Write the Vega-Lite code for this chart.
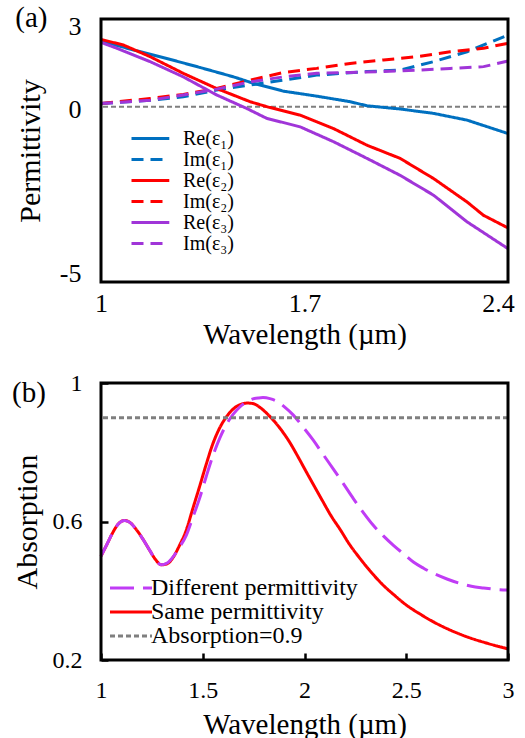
{
  "$schema": "https://vega.github.io/schema/vega-lite/v6.json",
  "background": "white",
  "padding": {"left": 12, "top": 4, "right": 5, "bottom": 5},
  "spacing": 22,
  "resolve": {
    "scale": {"color": "independent", "strokeDash": "independent", "strokeWidth": "independent", "x": "independent", "y": "independent"},
    "legend": {"color": "independent", "strokeDash": "independent", "strokeWidth": "independent"}
  },
  "config": {
    "font": "Liberation Serif",
    "view": {"stroke": null},
    "axis": {"grid": false, "domain": false, "labelFont": "Liberation Serif", "titleFont": "Liberation Serif", "titleFontWeight": "normal", "labelColor": "black", "titleColor": "black", "tickColor": "#000000", "labelOverlap": false},
    "title": {"font": "Liberation Serif", "fontWeight": "normal", "fontSize": 29, "anchor": "start", "frame": "bounds", "baseline": "alphabetic", "color": "black"},
    "legend": {"labelFont": "Liberation Serif", "labelColor": "black"}
  },
  "vconcat": [
    {
      "width": 407,
      "height": 263,
      "title": {"text": "(a)", "offset": -20},
      "layer": [
        {
          "data": {"values": [{"level": 0}]},
          "mark": {"type": "rule", "color": "#7f7f7f", "strokeWidth": 2, "strokeDash": [5, 3]},
          "encoding": {"y": {"field": "level", "type": "quantitative"}}
        },
        {
          "data": {"values": [
            {"s": "Re(ε₁)", "x": 1.0, "v": 2.25},
            {"s": "Re(ε₁)", "x": 1.111, "v": 1.94},
            {"s": "Re(ε₁)", "x": 1.226, "v": 1.65},
            {"s": "Re(ε₁)", "x": 1.341, "v": 1.34},
            {"s": "Re(ε₁)", "x": 1.456, "v": 1.02},
            {"s": "Re(ε₁)", "x": 1.524, "v": 0.8},
            {"s": "Re(ε₁)", "x": 1.628, "v": 0.53},
            {"s": "Re(ε₁)", "x": 1.742, "v": 0.36},
            {"s": "Re(ε₁)", "x": 1.857, "v": 0.17},
            {"s": "Re(ε₁)", "x": 1.915, "v": 0.03},
            {"s": "Re(ε₁)", "x": 2.029, "v": -0.08},
            {"s": "Re(ε₁)", "x": 2.144, "v": -0.23},
            {"s": "Re(ε₁)", "x": 2.259, "v": -0.46},
            {"s": "Re(ε₁)", "x": 2.4, "v": -0.92},
            {"s": "Im(ε₁)", "x": 1.0, "v": 0.11},
            {"s": "Im(ε₁)", "x": 1.169, "v": 0.22},
            {"s": "Im(ε₁)", "x": 1.283, "v": 0.34},
            {"s": "Im(ε₁)", "x": 1.398, "v": 0.57},
            {"s": "Im(ε₁)", "x": 1.513, "v": 0.74},
            {"s": "Im(ε₁)", "x": 1.628, "v": 0.91},
            {"s": "Im(ε₁)", "x": 1.742, "v": 1.08},
            {"s": "Im(ε₁)", "x": 1.915, "v": 1.2},
            {"s": "Im(ε₁)", "x": 2.029, "v": 1.25},
            {"s": "Im(ε₁)", "x": 2.144, "v": 1.54},
            {"s": "Im(ε₁)", "x": 2.259, "v": 1.88},
            {"s": "Im(ε₁)", "x": 2.4, "v": 2.45},
            {"s": "Re(ε₂)", "x": 1.0, "v": 2.3},
            {"s": "Re(ε₂)", "x": 1.077, "v": 2.11},
            {"s": "Re(ε₂)", "x": 1.169, "v": 1.71},
            {"s": "Re(ε₂)", "x": 1.283, "v": 1.14},
            {"s": "Re(ε₂)", "x": 1.398, "v": 0.62},
            {"s": "Re(ε₂)", "x": 1.513, "v": 0.17},
            {"s": "Re(ε₂)", "x": 1.57, "v": 0.0},
            {"s": "Re(ε₂)", "x": 1.685, "v": -0.29},
            {"s": "Re(ε₂)", "x": 1.8, "v": -0.75},
            {"s": "Re(ε₂)", "x": 1.915, "v": -1.32},
            {"s": "Re(ε₂)", "x": 2.029, "v": -1.77},
            {"s": "Re(ε₂)", "x": 2.144, "v": -2.46},
            {"s": "Re(ε₂)", "x": 2.259, "v": -3.26},
            {"s": "Re(ε₂)", "x": 2.316, "v": -3.72},
            {"s": "Re(ε₂)", "x": 2.4, "v": -4.15},
            {"s": "Im(ε₂)", "x": 1.0, "v": 0.11},
            {"s": "Im(ε₂)", "x": 1.169, "v": 0.28},
            {"s": "Im(ε₂)", "x": 1.283, "v": 0.42},
            {"s": "Im(ε₂)", "x": 1.398, "v": 0.62},
            {"s": "Im(ε₂)", "x": 1.513, "v": 0.91},
            {"s": "Im(ε₂)", "x": 1.628, "v": 1.17},
            {"s": "Im(ε₂)", "x": 1.742, "v": 1.31},
            {"s": "Im(ε₂)", "x": 1.857, "v": 1.48},
            {"s": "Im(ε₂)", "x": 1.972, "v": 1.6},
            {"s": "Im(ε₂)", "x": 2.087, "v": 1.71},
            {"s": "Im(ε₂)", "x": 2.201, "v": 1.88},
            {"s": "Im(ε₂)", "x": 2.316, "v": 2.0},
            {"s": "Im(ε₂)", "x": 2.4, "v": 2.17},
            {"s": "Re(ε₃)", "x": 1.0, "v": 2.2},
            {"s": "Re(ε₃)", "x": 1.054, "v": 2.0},
            {"s": "Re(ε₃)", "x": 1.169, "v": 1.54},
            {"s": "Re(ε₃)", "x": 1.283, "v": 1.02},
            {"s": "Re(ε₃)", "x": 1.398, "v": 0.4},
            {"s": "Re(ε₃)", "x": 1.501, "v": -0.06},
            {"s": "Re(ε₃)", "x": 1.57, "v": -0.4},
            {"s": "Re(ε₃)", "x": 1.685, "v": -0.69},
            {"s": "Re(ε₃)", "x": 1.8, "v": -1.2},
            {"s": "Re(ε₃)", "x": 1.915, "v": -1.77},
            {"s": "Re(ε₃)", "x": 2.029, "v": -2.35},
            {"s": "Re(ε₃)", "x": 2.144, "v": -3.03},
            {"s": "Re(ε₃)", "x": 2.259, "v": -3.94},
            {"s": "Re(ε₃)", "x": 2.4, "v": -4.86},
            {"s": "Im(ε₃)", "x": 1.0, "v": 0.11},
            {"s": "Im(ε₃)", "x": 1.169, "v": 0.22},
            {"s": "Im(ε₃)", "x": 1.283, "v": 0.4},
            {"s": "Im(ε₃)", "x": 1.398, "v": 0.6},
            {"s": "Im(ε₃)", "x": 1.513, "v": 0.85},
            {"s": "Im(ε₃)", "x": 1.628, "v": 1.02},
            {"s": "Im(ε₃)", "x": 1.742, "v": 1.14},
            {"s": "Im(ε₃)", "x": 1.857, "v": 1.17},
            {"s": "Im(ε₃)", "x": 1.972, "v": 1.2},
            {"s": "Im(ε₃)", "x": 2.087, "v": 1.25},
            {"s": "Im(ε₃)", "x": 2.201, "v": 1.31},
            {"s": "Im(ε₃)", "x": 2.316, "v": 1.37},
            {"s": "Im(ε₃)", "x": 2.4, "v": 1.56}
          ]},
          "mark": {"type": "line", "strokeWidth": 3},
          "encoding": {
            "x": {"field": "x", "type": "quantitative", "scale": {"domain": [1, 2.4], "nice": false, "zero": false},
              "axis": {"values": [1, 1.7, 2.4], "format": "~g", "labelFontSize": 26, "labelPadding": 8, "ticks": false, "labelFlush": false,
                "labelOffset": {"condition": {"test": "datum.value == 2.4", "value": -10}, "value": 0},
                "title": "Wavelength (µm)", "titleFontSize": 29, "titlePadding": 4}},
            "y": {"field": "v", "type": "quantitative", "scale": {"domain": [-6, 3], "nice": false, "zero": false},
              "axis": {"values": [3, 0, -6], "labelExpr": "datum.value == -6 ? '-5' : datum.label", "labelFlush": false, "labelFontSize": 26, "labelPadding": 20, "ticks": false,
                "labelOffset": {"condition": [{"test": "datum.value == 3", "value": 7}, {"test": "datum.value == -6", "value": -9}], "value": 3},
                "title": "Permittivity", "titleFontSize": 30, "titlePadding": 14}},
            "color": {"field": "s", "type": "nominal",
              "scale": {"domain": ["Re(ε₁)", "Im(ε₁)", "Re(ε₂)", "Im(ε₂)", "Re(ε₃)", "Im(ε₃)"], "range": ["#0070C0", "#0070C0", "#FF0000", "#FF0000", "#A035D8", "#A035D8"]},
              "legend": {"orient": "none", "legendX": 29, "legendY": 109, "title": null, "symbolType": "M-1,0L3.2,0", "symbolSize": 324, "symbolStrokeWidth": 3, "labelFontSize": 20, "labelOffset": 32, "rowPadding": -0.3, "padding": 0}},
            "strokeDash": {"field": "s", "type": "nominal",
              "scale": {"domain": ["Re(ε₁)", "Im(ε₁)", "Re(ε₂)", "Im(ε₂)", "Re(ε₃)", "Im(ε₃)"], "range": [[1, 0], [12, 7], [1, 0], [12, 7], [1, 0], [12, 7]]},
              "legend": {"orient": "none", "legendX": 29, "legendY": 109, "title": null, "symbolType": "M-1,0L3.2,0", "symbolSize": 324, "symbolStrokeWidth": 3, "labelFontSize": 20, "labelOffset": 32, "rowPadding": -0.3, "padding": 0}}
          }
        },
        {
          "data": {"values": [{"x0": 1, "x1": 2.4, "y0": -6, "y1": 3}]},
          "mark": {"type": "rect", "fill": "transparent", "stroke": "#000000", "strokeWidth": 3},
          "encoding": {
            "x": {"field": "x0", "type": "quantitative"},
            "x2": {"field": "x1"},
            "y": {"field": "y0", "type": "quantitative"},
            "y2": {"field": "y1"}
          }
        }
      ]
    },
    {
      "width": 407,
      "height": 277,
      "title": {"text": "(b)", "offset": -37},
      "layer": [
        {
          "data": {"values": [
            {"s": "Same permittivity", "x": 1.0, "a": 0.5},
            {"s": "Same permittivity", "x": 1.03, "a": 0.535},
            {"s": "Same permittivity", "x": 1.057, "a": 0.567},
            {"s": "Same permittivity", "x": 1.085, "a": 0.593},
            {"s": "Same permittivity", "x": 1.115, "a": 0.603},
            {"s": "Same permittivity", "x": 1.145, "a": 0.596},
            {"s": "Same permittivity", "x": 1.172, "a": 0.578},
            {"s": "Same permittivity", "x": 1.205, "a": 0.55},
            {"s": "Same permittivity", "x": 1.238, "a": 0.518},
            {"s": "Same permittivity", "x": 1.268, "a": 0.49},
            {"s": "Same permittivity", "x": 1.296, "a": 0.475},
            {"s": "Same permittivity", "x": 1.325, "a": 0.478},
            {"s": "Same permittivity", "x": 1.353, "a": 0.495},
            {"s": "Same permittivity", "x": 1.385, "a": 0.53},
            {"s": "Same permittivity", "x": 1.419, "a": 0.575},
            {"s": "Same permittivity", "x": 1.45, "a": 0.635},
            {"s": "Same permittivity", "x": 1.484, "a": 0.7},
            {"s": "Same permittivity", "x": 1.517, "a": 0.765},
            {"s": "Same permittivity", "x": 1.55, "a": 0.825},
            {"s": "Same permittivity", "x": 1.583, "a": 0.87},
            {"s": "Same permittivity", "x": 1.616, "a": 0.902},
            {"s": "Same permittivity", "x": 1.65, "a": 0.925},
            {"s": "Same permittivity", "x": 1.681, "a": 0.937},
            {"s": "Same permittivity", "x": 1.722, "a": 0.942},
            {"s": "Same permittivity", "x": 1.75, "a": 0.94},
            {"s": "Same permittivity", "x": 1.78, "a": 0.93},
            {"s": "Same permittivity", "x": 1.81, "a": 0.915},
            {"s": "Same permittivity", "x": 1.846, "a": 0.893},
            {"s": "Same permittivity", "x": 1.885, "a": 0.865},
            {"s": "Same permittivity", "x": 1.928, "a": 0.828},
            {"s": "Same permittivity", "x": 1.97, "a": 0.785},
            {"s": "Same permittivity", "x": 2.01, "a": 0.742},
            {"s": "Same permittivity", "x": 2.05, "a": 0.7},
            {"s": "Same permittivity", "x": 2.092, "a": 0.656},
            {"s": "Same permittivity", "x": 2.13, "a": 0.617},
            {"s": "Same permittivity", "x": 2.174, "a": 0.578},
            {"s": "Same permittivity", "x": 2.22, "a": 0.535},
            {"s": "Same permittivity", "x": 2.273, "a": 0.493},
            {"s": "Same permittivity", "x": 2.33, "a": 0.452},
            {"s": "Same permittivity", "x": 2.387, "a": 0.416},
            {"s": "Same permittivity", "x": 2.44, "a": 0.388},
            {"s": "Same permittivity", "x": 2.502, "a": 0.358},
            {"s": "Same permittivity", "x": 2.57, "a": 0.332},
            {"s": "Same permittivity", "x": 2.634, "a": 0.31},
            {"s": "Same permittivity", "x": 2.71, "a": 0.288},
            {"s": "Same permittivity", "x": 2.798, "a": 0.267},
            {"s": "Same permittivity", "x": 2.9, "a": 0.248},
            {"s": "Same permittivity", "x": 3.0, "a": 0.232},
            {"s": "Different permittivity", "x": 1.0, "a": 0.5},
            {"s": "Different permittivity", "x": 1.03, "a": 0.535},
            {"s": "Different permittivity", "x": 1.057, "a": 0.567},
            {"s": "Different permittivity", "x": 1.085, "a": 0.593},
            {"s": "Different permittivity", "x": 1.115, "a": 0.603},
            {"s": "Different permittivity", "x": 1.145, "a": 0.596},
            {"s": "Different permittivity", "x": 1.172, "a": 0.578},
            {"s": "Different permittivity", "x": 1.205, "a": 0.55},
            {"s": "Different permittivity", "x": 1.238, "a": 0.518},
            {"s": "Different permittivity", "x": 1.268, "a": 0.49},
            {"s": "Different permittivity", "x": 1.296, "a": 0.475},
            {"s": "Different permittivity", "x": 1.325, "a": 0.48},
            {"s": "Different permittivity", "x": 1.353, "a": 0.497},
            {"s": "Different permittivity", "x": 1.385, "a": 0.525},
            {"s": "Different permittivity", "x": 1.419, "a": 0.56},
            {"s": "Different permittivity", "x": 1.45, "a": 0.61},
            {"s": "Different permittivity", "x": 1.484, "a": 0.666},
            {"s": "Different permittivity", "x": 1.517, "a": 0.73},
            {"s": "Different permittivity", "x": 1.55, "a": 0.79},
            {"s": "Different permittivity", "x": 1.583, "a": 0.84},
            {"s": "Different permittivity", "x": 1.616, "a": 0.88},
            {"s": "Different permittivity", "x": 1.65, "a": 0.91},
            {"s": "Different permittivity", "x": 1.681, "a": 0.93},
            {"s": "Different permittivity", "x": 1.715, "a": 0.945},
            {"s": "Different permittivity", "x": 1.747, "a": 0.954},
            {"s": "Different permittivity", "x": 1.775, "a": 0.957},
            {"s": "Different permittivity", "x": 1.796, "a": 0.958},
            {"s": "Different permittivity", "x": 1.83, "a": 0.955},
            {"s": "Different permittivity", "x": 1.862, "a": 0.948},
            {"s": "Different permittivity", "x": 1.9, "a": 0.932},
            {"s": "Different permittivity", "x": 1.944, "a": 0.908},
            {"s": "Different permittivity", "x": 1.99, "a": 0.875},
            {"s": "Different permittivity", "x": 2.043, "a": 0.835},
            {"s": "Different permittivity", "x": 2.09, "a": 0.795},
            {"s": "Different permittivity", "x": 2.141, "a": 0.752},
            {"s": "Different permittivity", "x": 2.19, "a": 0.71},
            {"s": "Different permittivity", "x": 2.24, "a": 0.666},
            {"s": "Different permittivity", "x": 2.29, "a": 0.625},
            {"s": "Different permittivity", "x": 2.338, "a": 0.589},
            {"s": "Different permittivity", "x": 2.39, "a": 0.557},
            {"s": "Different permittivity", "x": 2.437, "a": 0.531},
            {"s": "Different permittivity", "x": 2.49, "a": 0.505},
            {"s": "Different permittivity", "x": 2.535, "a": 0.483},
            {"s": "Different permittivity", "x": 2.585, "a": 0.465},
            {"s": "Different permittivity", "x": 2.634, "a": 0.45},
            {"s": "Different permittivity", "x": 2.7, "a": 0.434},
            {"s": "Different permittivity", "x": 2.765, "a": 0.421},
            {"s": "Different permittivity", "x": 2.82, "a": 0.413},
            {"s": "Different permittivity", "x": 2.88, "a": 0.408},
            {"s": "Different permittivity", "x": 2.94, "a": 0.404},
            {"s": "Different permittivity", "x": 3.0, "a": 0.402}
          ]},
          "mark": {"type": "line", "interpolate": "monotone"},
          "encoding": {
            "x": {"field": "x", "type": "quantitative", "scale": {"domain": [1, 3], "nice": false, "zero": false},
              "axis": {"values": [1, 1.5, 2, 2.5, 3], "format": "~g", "labelFontSize": 24, "tickSize": -7, "tickWidth": 2.5, "labelPadding": 25, "labelFlush": false, "title": "Wavelength (µm)", "titleFontSize": 29, "titlePadding": 8}},
            "y": {"field": "a", "type": "quantitative", "scale": {"domain": [0.2, 1], "nice": false, "zero": false},
              "axis": {"values": [0.2, 0.6, 1], "format": "~g", "labelFontSize": 24, "tickSize": -7, "tickWidth": 2.5, "labelPadding": 26, "labelFlush": false, "title": "Absorption", "titleFontSize": 30, "titlePadding": 10}},
            "color": {"field": "s", "type": "nominal",
              "scale": {"domain": ["Different permittivity", "Same permittivity", "Absorption=0.9"], "range": ["#C03CF5", "#FF0000", "#7f7f7f"]},
              "legend": {"orient": "none", "legendX": 7, "legendY": 193, "title": null, "symbolType": "M-1,0L3.2,0", "symbolSize": 400, "labelFontSize": 24, "labelOffset": 19, "rowPadding": 0, "padding": 0, "labelLimit": 400}},
            "strokeDash": {"field": "s", "type": "nominal",
              "scale": {"domain": ["Different permittivity", "Same permittivity", "Absorption=0.9"], "range": [[24, 9], [1, 0], [5, 3]]},
              "legend": {"orient": "none", "legendX": 7, "legendY": 193, "title": null, "symbolType": "M-1,0L3.2,0", "symbolSize": 400, "labelFontSize": 24, "labelOffset": 19, "rowPadding": 0, "padding": 0, "labelLimit": 400}},
            "strokeWidth": {"field": "s", "type": "nominal",
              "scale": {"domain": ["Different permittivity", "Same permittivity", "Absorption=0.9"], "range": [3, 3, 2]},
              "legend": {"orient": "none", "legendX": 7, "legendY": 193, "title": null, "symbolType": "M-1,0L3.2,0", "symbolSize": 400, "labelFontSize": 24, "labelOffset": 19, "rowPadding": 0, "padding": 0, "labelLimit": 400}}
          }
        },
        {
          "data": {"values": [{"s": "Absorption=0.9", "a": 0.9}]},
          "mark": {"type": "rule"},
          "encoding": {
            "y": {"field": "a", "type": "quantitative"},
            "color": {"field": "s", "type": "nominal"},
            "strokeDash": {"field": "s", "type": "nominal"},
            "strokeWidth": {"field": "s", "type": "nominal"}
          }
        },
        {
          "data": {"values": [{"x0": 1, "x1": 3, "y0": 0.2, "y1": 1}]},
          "mark": {"type": "rect", "fill": "transparent", "stroke": "#000000", "strokeWidth": 3},
          "encoding": {
            "x": {"field": "x0", "type": "quantitative"},
            "x2": {"field": "x1"},
            "y": {"field": "y0", "type": "quantitative"},
            "y2": {"field": "y1"}
          }
        }
      ]
    }
  ]
}
